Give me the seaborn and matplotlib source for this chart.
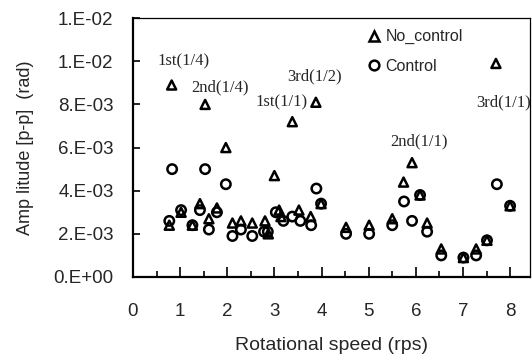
import numpy as np
import pandas as pd
import matplotlib
matplotlib.use("Agg")
import matplotlib.pyplot as plt
from matplotlib.ticker import MultipleLocator, FormatStrFormatter
from matplotlib.lines import Line2D
import seaborn as sns

# No_control (triangles)
speed_nc = [0.77, 0.82, 1.02, 1.26, 1.42, 1.53, 1.61, 1.78, 1.97, 2.11, 2.29, 2.53,
            2.80, 2.87, 3.00, 3.10, 3.14, 3.38, 3.52, 3.77, 3.88, 3.99, 4.52, 5.01,
            5.50, 5.74, 5.92, 6.09, 6.24, 6.54, 7.01, 7.28, 7.51, 7.70, 8.00]
amp_nc = [0.0024, 0.0089, 0.0030, 0.0024, 0.0034, 0.0080, 0.0027, 0.0032, 0.0060, 0.0025,
          0.0026, 0.0025, 0.0026, 0.0020, 0.0047, 0.0031, 0.0028, 0.0072, 0.0031, 0.0028,
          0.0081, 0.0034, 0.0023, 0.0024, 0.0027, 0.0044, 0.0053, 0.0038, 0.0025, 0.0013,
          0.0009, 0.0013, 0.0017, 0.0099, 0.0033]

# Control (circles)
speed_c = [0.77, 0.83, 1.02, 1.26, 1.42, 1.53, 1.61, 1.78, 1.97, 2.11, 2.29, 2.53,
           2.78, 2.86, 3.03, 3.19, 3.38, 3.55, 3.78, 3.89, 3.99, 4.52, 5.01, 5.50,
           5.75, 5.92, 6.09, 6.24, 6.54, 7.01, 7.28, 7.51, 7.72, 8.00]
amp_c = [0.0026, 0.0050, 0.0031, 0.0024, 0.0031, 0.0050, 0.0022, 0.0030, 0.0043, 0.0019,
         0.0022, 0.0019, 0.0021, 0.0021, 0.0030, 0.0026, 0.0028, 0.0026, 0.0024, 0.0041,
         0.0034, 0.0020, 0.0020, 0.0024, 0.0035, 0.0026, 0.0038, 0.0021, 0.0010, 0.0009,
         0.0010, 0.0017, 0.0043, 0.0033]

# resonance labels (text, x, y)
notes = [("1st(1/4)", 1.07, 0.0100), ("2nd(1/4)", 1.85, 0.0088),
         ("3rd(1/2)", 3.86, 0.0093), ("1st(1/1)", 3.16, 0.0081),
         ("2nd(1/1)", 6.06, 0.0063), ("3rd(1/1)", 7.86, 0.0081)]

df_nc = pd.DataFrame({"speed": speed_nc, "amp": amp_nc})
df_c = pd.DataFrame({"speed": speed_c, "amp": amp_c})

sns.set_style("white")
plt.rcParams["font.family"] = ["Liberation Sans", "DejaVu Sans"]

fig = plt.figure(figsize=(5.32, 3.63), dpi=100)
ax = fig.add_axes([0.25, 0.237, 0.746, 0.713])

sns.scatterplot(data=df_c, x="speed", y="amp", marker="o", s=46, facecolor="none",
                edgecolor="black", linewidth=1.8, ax=ax, legend=False)
sns.scatterplot(data=df_nc, x="speed", y="amp", marker="^", s=42, facecolor="none",
                edgecolor="black", linewidth=1.8, ax=ax, legend=False)

for txt, x, y in notes:
    ax.text(x, y, txt, ha="center", va="center", fontsize=12,
            family=["Liberation Serif", "DejaVu Serif"])

ax.set_xlim(0, 8.42)
ax.set_ylim(0, 0.012)
ax.xaxis.set_major_locator(MultipleLocator(1))
ax.xaxis.set_minor_locator(MultipleLocator(0.5))
ax.yaxis.set_major_locator(MultipleLocator(0.002))
ax.yaxis.set_major_formatter(FormatStrFormatter("%#.0E"))
ax.tick_params(axis="both", which="both", direction="in", color="black", labelsize=13.5)
ax.tick_params(axis="x", which="major", length=7, width=1.2, pad=19)
ax.tick_params(axis="x", which="minor", length=4, width=1.2)
ax.tick_params(axis="y", which="major", length=5, width=1.2, pad=14)
ax.tick_params(bottom=True, left=True, which="both")
ax.tick_params(axis="y", which="minor", left=False)

for side in ["left", "bottom"]:
    ax.spines[side].set_linewidth(1.6)
for side in ["top", "right"]:
    ax.spines[side].set_linewidth(0.9)
for sp in ax.spines.values():
    sp.set_color("black")

ax.set_xlabel("Rotational speed (rps)", fontsize=14, labelpad=12)
ax.set_ylabel("Amp litude [p-p]  (rad)", fontsize=13, labelpad=14)

handles = [Line2D([], [], marker="^", ls="none", mfc="none", mec="black", mew=1.8, ms=7),
           Line2D([], [], marker="o", ls="none", mfc="none", mec="black", mew=1.8, ms=7)]
ax.legend(handles, ["No_control", "Control"], loc="upper left", bbox_to_anchor=(0.56, 1.0),
          frameon=False, fontsize=11.5, handletextpad=0.2, handlelength=1.0,
          labelspacing=0.9, borderaxespad=0.3)

fig.savefig("out.png", dpi=100)
